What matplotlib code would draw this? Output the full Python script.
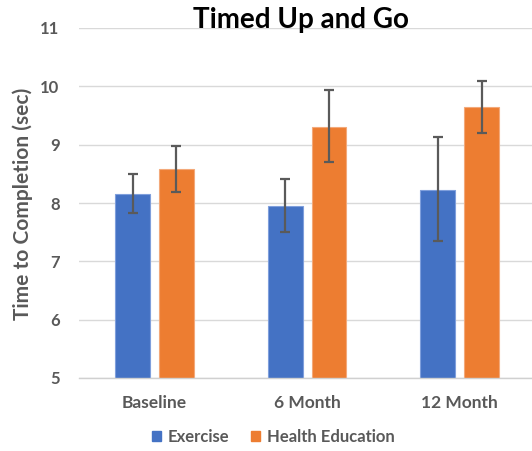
import matplotlib
matplotlib.use("Agg")
import matplotlib.pyplot as plt
import numpy as np
from matplotlib.patches import Patch

categories = ["Baseline", "6 Month", "12 Month"]
series_names = ["Exercise", "Health Education"]
exercise_mean = [8.15, 7.95, 8.23]
exercise_low = [7.83, 7.50, 7.35]
exercise_high = [8.50, 8.42, 9.14]
health_mean = [8.59, 9.30, 9.64]
health_low = [8.19, 8.70, 9.20]
health_high = [8.97, 9.93, 10.10]
yticks = [5, 6, 7, 8, 9, 10, 11]

W, H = 532, 451
fig = plt.figure(figsize=(W / 100, H / 100), dpi=100)
ax = fig.add_axes([79 / W, 1 - 378 / H, (532 - 79) / W, (378 - 28) / H])

font = ["Lato", "DejaVu Sans"]
gray = "#595959"
blue = "#4472C4"
orange = "#ED7D31"

x = np.arange(len(categories))
bw = 0.229
off = 0.143

ex_err = [np.array(exercise_mean) - np.array(exercise_low),
          np.array(exercise_high) - np.array(exercise_mean)]
he_err = [np.array(health_mean) - np.array(health_low),
          np.array(health_high) - np.array(health_mean)]

ax.bar(x - off, exercise_mean, bw, color=blue, zorder=2,
       edgecolor="#7f9fdc", linewidth=0.8)
ax.bar(x + off, health_mean, bw, color=orange, zorder=2,
       edgecolor="#f3a97a", linewidth=0.8)
ax.errorbar(x - off, exercise_mean, yerr=ex_err, fmt="none", ecolor="#5a5a5a",
            elinewidth=1.6, capsize=3.5, capthick=1.6, zorder=3)
ax.errorbar(x + off, health_mean, yerr=he_err, fmt="none", ecolor="#5a5a5a",
            elinewidth=1.6, capsize=3.5, capthick=1.6, zorder=3)

ax.set_ylim(5, 11)
ax.set_xlim(-0.496, 2.474)
ax.set_yticks(yticks)
ax.set_yticklabels([str(v) for v in yticks], fontfamily=font, fontweight="bold",
                   fontsize=12, color=gray)
ax.set_xticks(x)
ax.set_xticklabels(categories, fontfamily=font, fontweight="bold",
                   fontsize=12.5, color=gray)
ax.tick_params(axis="both", length=0)
ax.tick_params(axis="y", pad=14)
ax.tick_params(axis="x", pad=12)
ax.yaxis.grid(True, color="#d9d9d9", linewidth=1.0, zorder=0)
ax.set_axisbelow(True)
for s in ["top", "right", "left"]:
    ax.spines[s].set_visible(False)
ax.spines["bottom"].set_color("#d0d0d0")
ax.spines["bottom"].set_linewidth(1.0)

ax.set_ylabel("Time to Completion (sec)", fontfamily=font, fontweight="bold",
              fontsize=15, color=gray, va="center")
ax.yaxis.set_label_coords((23 - 79) / (532 - 79), (378 - 204) / (378 - 28))

fig.text(301 / W, 1 - 20 / H, "Timed Up and Go", ha="center", va="center",
         fontfamily=font, fontweight="bold", fontsize=20, color="black")

handles = [Patch(facecolor=blue, edgecolor=blue), Patch(facecolor=orange, edgecolor=orange)]
leg = fig.legend(handles, series_names, loc="center", bbox_to_anchor=(273 / W, 1 - 437 / H),
                 ncol=2, frameon=False, handlelength=0.55, handleheight=0.55,
                 handletextpad=0.4, columnspacing=1.3,
                 prop={"family": font, "weight": "bold", "size": 12})
for t in leg.get_texts():
    t.set_color(gray)

fig.savefig("out.png", dpi=100)
